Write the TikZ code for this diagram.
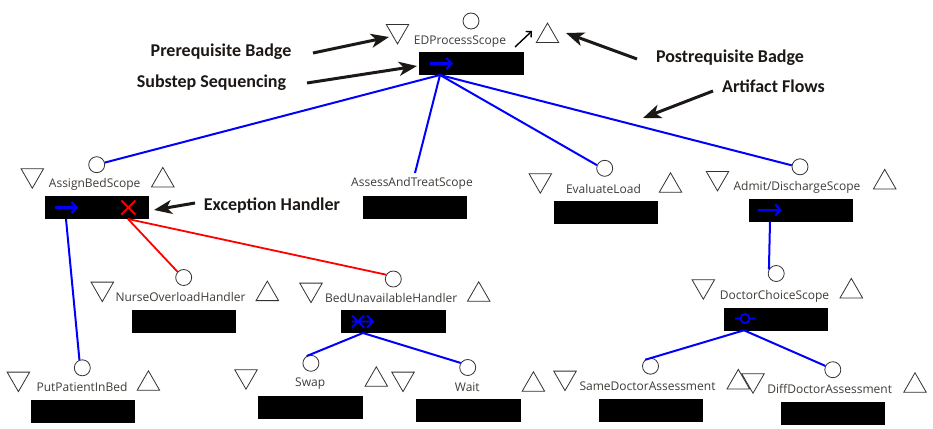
\documentclass[tikz,border=0pt]{standalone}
\usepackage{fontspec}
\setmainfont{Open Sans}
\newfontfamily\annfont{Carlito}
\usetikzlibrary{shapes.geometric,arrows.meta}
\definecolor{labelgray}{RGB}{64,60,56}
\definecolor{outline}{RGB}{50,50,50}
\definecolor{annink}{RGB}{28,24,22}
\definecolor{flowblue}{RGB}{0,0,255}
\definecolor{excred}{RGB}{255,0,0}

\begin{document}
\begin{tikzpicture}[x=1pt,y=-1pt,
  port/.style={circle,draw=outline,line width=0.8pt,fill=white,minimum size=16pt,inner sep=0pt},
  pretri/.style={regular polygon,regular polygon sides=3,shape border rotate=180,draw=outline,line width=0.8pt,minimum size=26pt,inner sep=0pt,anchor=north},
  posttri/.style={regular polygon,regular polygon sides=3,draw=outline,line width=0.8pt,minimum size=26pt,inner sep=0pt,anchor=south},
  lbl/.style={anchor=base,inner sep=0pt,text=labelgray,font=\fontsize{12}{14}\selectfont},
  blk/.style={fill=black,draw=none,minimum width=104.5pt,minimum height=23pt,inner sep=0pt,anchor=north west},
  seq/.style={flowblue,line width=2.2pt,-{Straight Barb[length=5pt,width=11pt]}},
  flow/.style={flowblue,line width=2pt},
  exc/.style={excred,line width=1.8pt},
  ann/.style={anchor=base,inner sep=0pt,text=annink,font=\annfont\bfseries\fontsize{18}{22}\selectfont},
  annarrow/.style={annink,line width=3pt,-{Stealth[length=18pt,width=14pt,inset=5pt]}},
]
\useasboundingbox[fill=white] (0,0) rectangle (933,428);

% ---------- EDProcessScope ----------
\node[port] (edC) at (471,21) {};
\node[pretri] (edPre) at (397.5,24) {};
\node[posttri] (edPost) at (547.5,43) {};
\node[lbl] (edL) at (460,44.7) {EDProcessScope};
\node[blk] (edBox) at (419,52) {};
\draw[seq] (430,63.5) -- (453,63.5);
\coordinate (edOut) at (440,75);
\coordinate (smallA) at (515,47);
\coordinate (smallB) at (532,31);
\draw[black,line width=1.4pt,-{Straight Barb[length=4pt,width=8pt]}] (smallA) -- (smallB);

% ---------- AssignBedScope ----------
\node[port] (abC) at (96.7,164.7) {};
\node[pretri] (abPre) at (32.3,168.3) {};
\node[posttri] (abPost) at (162.8,187.3) {};
\node[lbl] (abL) at (94.7,187.5) {AssignBedScope};
\node[blk] (abBox) at (44.3,195.7) {};
\draw[seq] (55,207.5) -- (78,207.5);
\draw[exc] (121.3,200.5) -- (135.3,214.5) (121.3,214.5) -- (135.3,200.5);
\coordinate (abOut) at (66,219);
\coordinate (abExc) at (128,219);

% ---------- AssessAndTreatScope ----------
\node[lbl] (atL) at (412,186.7) {AssessAndTreatScope};
\node[blk] (atBox) at (362.3,196) {};
\coordinate (atIn) at (415,173);

% ---------- EvaluateLoad ----------
\node[port] (elC) at (604.7,168.3) {};
\node[pretri] (elPre) at (540.3,173.3) {};
\node[posttri] (elPost) at (670.5,192.7) {};
\node[lbl] (elL) at (603.5,193.3) {EvaluateLoad};
\node[blk] (elBox) at (553.3,201) {};

% ---------- Admit/DischargeScope ----------
\node[port] (adC) at (800,166.8) {};
\node[pretri] (adPre) at (717.5,171) {};
\node[posttri] (adPost) at (884.7,189.3) {};
\node[lbl] (adL) at (797,190) {Admit/DischargeScope};
\node[blk] (adBox) at (748.3,198.3) {};
\draw[seq] (758.3,210) -- (781.7,210);
\coordinate (adOut) at (770,221.3);

% ---------- NurseOverloadHandler ----------
\node[port] (noC) at (183.7,277.5) {};
\node[pretri] (noPre) at (102.3,281.7) {};
\node[posttri] (noPost) at (267.3,301) {};
\node[lbl] (noL) at (180.5,301.7) {NurseOverloadHandler};
\node[blk] (noBox) at (131.7,309.3) {};

% ---------- BedUnavailableHandler ----------
\node[port] (buC) at (393.3,279) {};
\node[pretri] (buPre) at (311,282.7) {};
\node[posttri] (buPost) at (478.7,301.7) {};
\node[lbl] (buL) at (391.2,302.7) {BedUnavailableHandler};
\node[blk] (buBox) at (341,310) {};
\draw[flowblue,line width=1.8pt] (352,321.5) -- (373,321.5)
  (352,315.5) -- (364,327.5) (352,327.5) -- (364,315.5)
  (367,315.5) -- (373,321.5) -- (367,327.5);
\coordinate (buOut) at (363,333);

% ---------- DoctorChoiceScope ----------
\node[port] (dcC) at (776.2,273.5) {};
\node[pretri] (dcPre) at (703.3,279.3) {};
\node[posttri] (dcPost) at (851.3,298.3) {};
\node[lbl] (dcL) at (774.5,299.3) {DoctorChoiceScope};
\node[blk] (dcBox) at (723.3,307.3) {};
\draw[flowblue,line width=1.8pt] (735,318.5) -- (740.5,318.5) (749.5,318.5) -- (755.7,318.5)
  (745,318.5) circle (4.5pt);
\coordinate (dcOut) at (744,330.3);

% ---------- PutPatientInBed ----------
\node[port] (ppC) at (82.3,367.8) {};
\node[pretri] (ppPre) at (18.4,371.7) {};
\node[posttri] (ppPost) at (148.4,390.7) {};
\node[lbl] (ppL) at (82,391.7) {PutPatientInBed};
\node[blk] (ppBox) at (30.4,399.3) {};

% ---------- Swap ----------
\node[port] (swC) at (310.9,363.3) {};
\node[pretri] (swPre) at (246,369.3) {};
\node[posttri] (swPost) at (376.3,386.7) {};
\node[lbl] (swL) at (310.2,386.7) {Swap};
\node[blk] (swBox) at (257.9,395.7) {};

% ---------- Wait ----------
\node[port] (waC) at (467.7,367.5) {};
\node[pretri] (waPre) at (403,371.7) {};
\node[posttri] (waPost) at (533.4,391.7) {};
\node[lbl] (waL) at (467.3,391.7) {Wait};
\node[blk] (waBox) at (416,399) {};

% ---------- SameDoctorAssessment ----------
\node[port] (sdC) at (650.5,366.2) {};
\node[pretri] (sdPre) at (565,370.7) {};
\node[posttri] (sdPost) at (738.3,389.3) {};
\node[lbl] (sdL) at (647.5,390) {SameDoctorAssessment};
\node[blk] (sdBox) at (598.3,398.3) {};

% ---------- DiffDoctorAssessment ----------
\node[port] (ddC) at (832.8,369.7) {};
\node[pretri] (ddPre) at (753,373.3) {};
\node[posttri] (ddPost) at (915,392.7) {};
\node[lbl] (ddL) at (829.7,393.3) {DiffDoctorAssessment};
\node[blk] (ddBox) at (780.7,401.7) {};

% ---------- artifact flows ----------
\draw[flow] (edOut) -- (abC);
\draw[flow] (edOut) -- (atIn);
\draw[flow] (edOut) -- (elC.158);
\draw[flow] (edOut) -- (adC.170);
\draw[flow] (abOut) -- (ppC.110);
\draw[exc] (abExc) -- (noC.137);
\draw[exc] (abExc) -- (buC.149);
\draw[flow] (buOut) -- (swC.120);
\draw[flow] (buOut) -- (waC.147);
\draw[flow] (adOut) -- (dcC.150);
\draw[flow] (dcOut) -- (sdC.130);
\draw[flow] (dcOut) -- (ddC.153);

% ---------- callouts ----------
\node[ann] (tPre) at (221,56.5) {Prerequisite Badge};
\node[ann] (tSub) at (211.5,87) {Substep Sequencing};
\node[ann] (tPost) at (730,62.5) {Postrequisite Badge};
\node[ann] (tArt) at (773.5,92.5) {Artifact Flows};
\node[ann] (tExc) at (272,210) {Exception Handler};

\coordinate (preTail) at (313,53);   \coordinate (preTip) at (389,37);
\coordinate (subTail) at (307,83);   \coordinate (subTip) at (417,66);
\coordinate (postTail) at (637,59);  \coordinate (postTip) at (566,33);
\coordinate (artTail) at (713,91);   \coordinate (artTip) at (643,118);
\coordinate (excTail) at (195,203);  \coordinate (excTip) at (154,210);

\draw[annarrow] (preTail) -- (preTip);
\draw[annarrow] (subTail) -- (subTip);
\draw[annarrow] (postTail) -- (postTip);
\draw[annarrow] (artTail) -- (artTip);
\draw[annarrow] (excTail) -- (excTip);
\end{tikzpicture}
\end{document}
